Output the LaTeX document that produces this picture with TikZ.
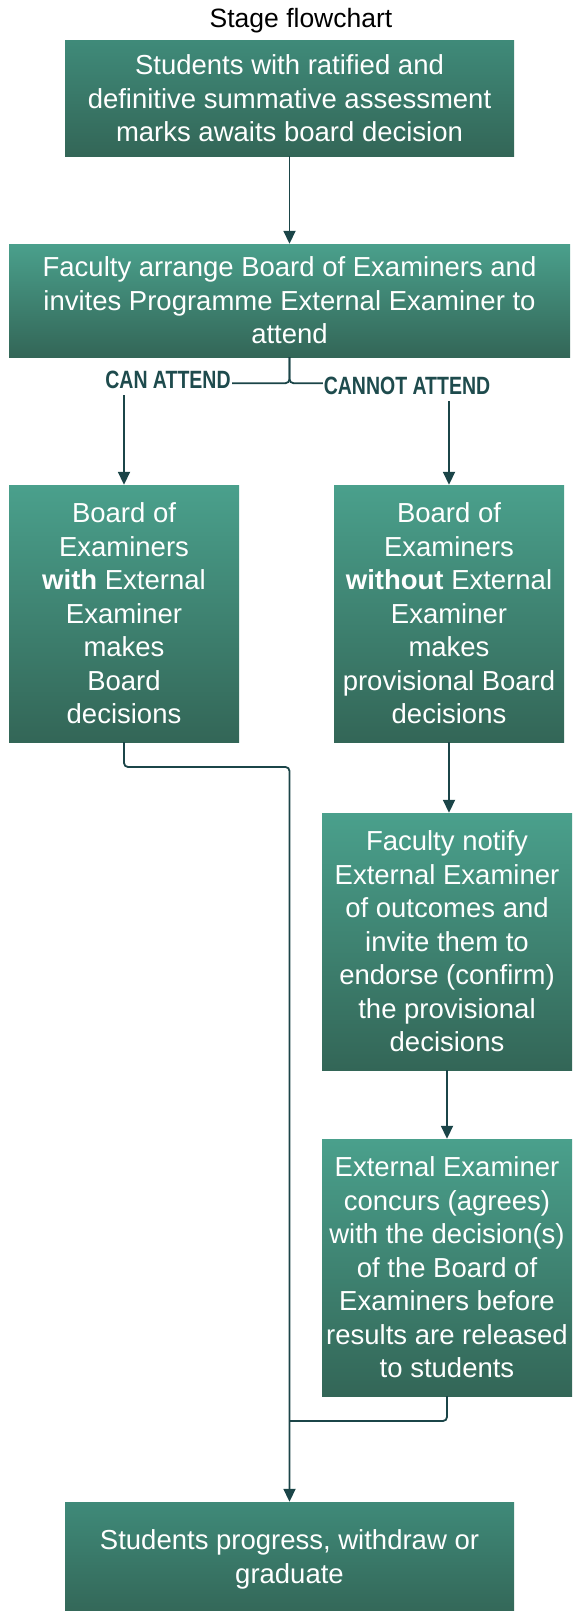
\documentclass[tikz,border=0pt]{standalone}
\usepackage{fontspec}
\setmainfont{Liberation Sans}
\newfontfamily\labelfont[FakeStretch=0.78]{Liberation Sans}
\usetikzlibrary{arrows.meta}
\definecolor{boxlight}{RGB}{74,160,140}
\definecolor{boxmid}{RGB}{63,138,121}
\definecolor{boxdark}{RGB}{51,102,87}
\definecolor{linedark}{RGB}{27,69,72}
\definecolor{labelteal}{RGB}{30,75,77}

\tikzset{
  stagebox/.style={rectangle, top color=boxlight, bottom color=boxdark, text=white,
    align=center, inner sep=0pt, font=\fontsize{27.5}{33.5}\selectfont},
  endbox/.style={stagebox, top color=boxmid},
  stagelink/.style={draw=linedark, line width=1.8pt, rounded corners=4pt},
  stagearrow/.style={stagelink, -{Triangle[width=12pt,length=13pt]}},
  choicelabel/.style={fill=white, text=labelteal, inner xsep=1pt, inner ysep=6pt,
    font=\labelfont\bfseries\fontsize{25}{30}\selectfont},
}

\begin{document}
\begin{tikzpicture}[x=1pt,y=-1pt]
    \useasboundingbox (0,0) rectangle (573,1611);

    % Title
    \node[font=\fontsize{26.5}{32}\selectfont] (title) at (301,21) {Stage flowchart};

    % Boxes
    \node[endbox, minimum width=449pt, minimum height=115pt] (marks) at (289.5,98.5)
        {Students with ratified and\\definitive summative assessment\\marks awaits board decision};
    \node[stagebox, minimum width=561pt, minimum height=113pt] (arrange) at (289.5,300.5)
        {Faculty arrange Board of Examiners and\\invites Programme External Examiner to\\attend};
    \node[stagebox, minimum width=230pt, minimum height=257pt] (withbox) at (124,613.5)
        {Board of\\Examiners\\\textbf{with} External\\Examiner\\makes\\Board\\decisions};
    \node[stagebox, minimum width=230pt, minimum height=257pt] (withoutbox) at (449,613.5)
        {Board of\\Examiners\\\textbf{without} External\\Examiner\\makes\\provisional Board\\decisions};
    \node[stagebox, minimum width=250pt, minimum height=257pt] (notify) at (447,941.5)
        {Faculty notify\\External Examiner\\of outcomes and\\invite them to\\endorse (confirm)\\the provisional\\decisions};
    \node[stagebox, minimum width=250pt, minimum height=257pt] (concurs) at (447,1267.5)
        {External Examiner\\concurs (agrees)\\with the decision(s)\\of the Board of\\Examiners before\\results are released\\to students};
    \node[endbox, minimum width=449pt, minimum height=115pt] (progress) at (289.5,1559.5)
        {Students progress, withdraw or\\graduate};

    % Connectors
    \draw[stagearrow] (marks.south) -- (arrange.north);
    \draw[stagearrow] (arrange.south) -- ++(0,26) -| (withbox.north);
    \draw[stagearrow] (arrange.south) -- ++(0,26) -| (withoutbox.north);
    \node[choicelabel] (can) at (168,380) {CAN ATTEND};
    \node[choicelabel] (cannot) at (407,386) {CANNOT ATTEND};

    \draw[stagearrow] (withoutbox.south) -- (withoutbox.south |- notify.north);
    \draw[stagearrow] (notify.south) -- (concurs.north);

    % Merge into final box
    \coordinate (joinA) at (289.5,767);
    \coordinate (joinB) at (289.5,1421);
    \draw[stagearrow] (withbox.south) |- (joinA) -- (progress.north);
    \draw[stagelink] (concurs.south) |- (joinB);
\end{tikzpicture}
\end{document}
